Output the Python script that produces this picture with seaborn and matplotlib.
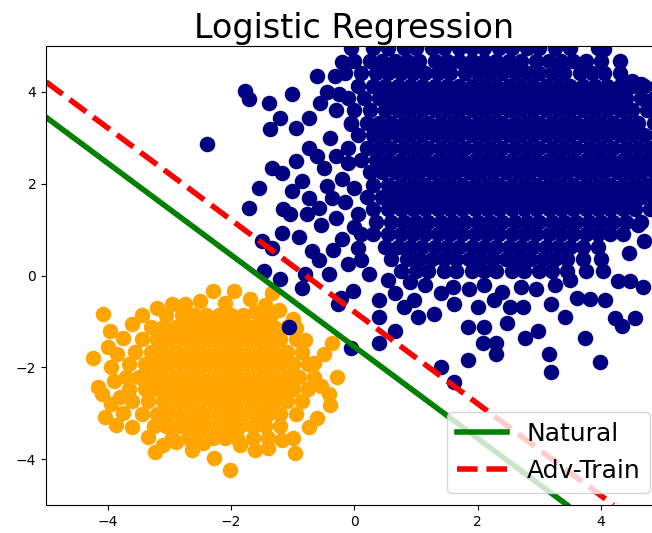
import pandas as pd
import seaborn as sns
import matplotlib.pyplot as plt

# --- orange cluster: dense rows (one y per row, x positions in that row) + loose edge points
orange_row_y = [-0.85, -1.12, -1.39, -1.66, -1.93, -2.20, -2.47, -2.74, -3.01, -3.28, -3.55]
orange_row_x = [
    [-3.05, -2.8, -2.6, -2.4, -2.2, -2.0, -1.8, -1.55, -1.35],
    [-3.3, -3.1, -2.9, -2.7, -2.5, -2.3, -2.1, -1.9, -1.7, -1.5, -1.3, -1.1],
    [-3.45, -3.2, -3.0, -2.8, -2.6, -2.4, -2.2, -2.0, -1.8, -1.6, -1.4, -1.2, -0.95],
    [-3.55, -3.3, -3.1, -2.9, -2.7, -2.5, -2.3, -2.1, -1.9, -1.7, -1.5, -1.3, -1.1, -0.85],
    [-3.65, -3.4, -3.2, -3.0, -2.8, -2.6, -2.4, -2.2, -2.0, -1.8, -1.6, -1.4, -1.2, -1.0, -0.75],
    [-3.7, -3.5, -3.3, -3.1, -2.9, -2.7, -2.5, -2.3, -2.1, -1.9, -1.7, -1.5, -1.3, -1.1, -0.9, -0.65],
    [-3.65, -3.4, -3.2, -3.0, -2.8, -2.6, -2.4, -2.2, -2.0, -1.8, -1.6, -1.4, -1.2, -1.0, -0.75],
    [-3.6, -3.35, -3.1, -2.9, -2.7, -2.5, -2.3, -2.1, -1.9, -1.7, -1.5, -1.3, -1.1, -0.85],
    [-3.45, -3.2, -3.0, -2.8, -2.6, -2.4, -2.2, -2.0, -1.8, -1.6, -1.4, -1.2, -0.95],
    [-3.25, -3.05, -2.85, -2.65, -2.45, -2.25, -2.05, -1.85, -1.65, -1.45, -1.2],
    [-2.95, -2.7, -2.5, -2.3, -2.1, -1.9, -1.65, -1.4],
]
orange_edge_x = [-4.24, -4.08, -3.97, -3.44, -3.76, -3.95, -4.1, -4.05, -3.87, -3.23,
                 -2.27, -2.02, -0.97, -0.42, -0.4, -0.29, -0.37, -0.8, -0.65, -2.3,
                 -1.95, -1.69, -1.34, -1.23, -2.95, -2.74, -1.61, -0.74, -1.18, -1.61,
                 -2.63, -2.9, -3.35, -3.76, -4.16, -3.8, -2.5, -2.1, -1.45, -3.2,
                 -3.85, -3.9, -3.95, -3.6, -3.1, -2.45, -1.85, -1.4, -1.0, -0.6,
                 -0.55, -0.5, -0.95, -1.0, -4.0, -3.6]
orange_edge_y = [-1.8, -0.83, -1.2, -0.87, -1.37, -2.0, -2.57, -3.08, -3.26, -3.85,
                 -3.98, -4.24, -3.87, -2.57, -2.83, -2.2, -1.48, -1.41, -1.91, -0.33,
                 -0.33, -0.5, -0.37, -0.76, -0.62, -0.62, -0.8, -3.3, -3.59, -3.8,
                 -3.8, -3.63, -3.52, -3.0, -2.43, -2.65, -0.55, -0.6, -0.65, -0.7,
                 -1.7, -2.3, -2.8, -3.3, -3.7, -3.65, -3.7, -3.75, -3.55, -3.1,
                 -2.4, -1.7, -1.15, -0.95, -1.55, -1.05]

# --- navy cluster
navy_row_y = [4.95, 4.68, 4.41, 4.14, 3.87, 3.60, 3.33, 3.06, 2.79, 2.52,
              2.25, 1.98, 1.71, 1.44, 1.17, 0.90, 0.63, 0.36, 0.09]
navy_row_x = [
    [-0.05, 0.3, 0.55, 0.8, 1.0, 1.25, 1.45, 1.7, 1.9, 2.1, 2.35, 2.55, 2.8, 3.0, 3.25, 3.5, 3.95],
    [0.0, 0.25, 0.45, 0.65, 0.85, 1.05, 1.3, 1.5, 1.7, 1.9, 2.1, 2.3, 2.5, 2.7, 2.95, 3.15, 3.35,
     3.55, 3.75, 4.0, 4.3],
    [-0.15, 0.1, 0.35, 0.55, 0.75, 0.95, 1.15, 1.35, 1.55, 1.8, 2.0, 2.2, 2.4, 2.6, 2.8, 3.0,
     3.2, 3.4, 3.65, 3.85, 4.05, 4.3],
    [0.05, 0.3, 0.5, 0.7, 0.9, 1.1, 1.3, 1.5, 1.7, 1.9, 2.1, 2.3, 2.5, 2.7, 2.9, 3.1, 3.3, 3.5,
     3.7, 3.9, 4.1, 4.3, 4.5, 4.7, 4.9],
    [-0.1, 0.15, 0.4, 0.6, 0.8, 1.0, 1.2, 1.4, 1.6, 1.8, 2.0, 2.2, 2.4, 2.6, 2.8, 3.0, 3.2, 3.4,
     3.6, 3.8, 4.0, 4.2, 4.4, 4.65, 4.85],
    [0.0, 0.25, 0.5, 0.7, 0.9, 1.1, 1.3, 1.5, 1.7, 1.9, 2.1, 2.3, 2.5, 2.7, 2.9, 3.1, 3.3, 3.5,
     3.7, 3.9, 4.1, 4.3, 4.5, 4.75],
    [-0.05, 0.2, 0.4, 0.6, 0.8, 1.0, 1.2, 1.4, 1.6, 1.8, 2.0, 2.2, 2.4, 2.6, 2.8, 3.0, 3.2, 3.4,
     3.6, 3.8, 4.0, 4.2, 4.4, 4.6, 4.85],
    [0.05, 0.3, 0.5, 0.7, 0.9, 1.1, 1.3, 1.5, 1.7, 1.9, 2.1, 2.3, 2.5, 2.7, 2.9, 3.1, 3.3, 3.5,
     3.7, 3.9, 4.1, 4.3, 4.5, 4.7, 4.9],
    [-0.1, 0.2, 0.4, 0.6, 0.8, 1.0, 1.2, 1.4, 1.6, 1.8, 2.0, 2.2, 2.4, 2.6, 2.8, 3.0, 3.2, 3.4,
     3.6, 3.8, 4.0, 4.2, 4.4, 4.6, 4.8],
    [0.1, 0.35, 0.55, 0.75, 0.95, 1.15, 1.35, 1.55, 1.75, 1.95, 2.15, 2.35, 2.55, 2.75, 2.95,
     3.15, 3.35, 3.55, 3.75, 3.95, 4.15, 4.35, 4.55, 4.75],
    [0.25, 0.45, 0.65, 0.85, 1.05, 1.25, 1.45, 1.65, 1.85, 2.05, 2.25, 2.45, 2.65, 2.85, 3.05,
     3.25, 3.45, 3.65, 3.85, 4.05, 4.25, 4.45, 4.65, 4.85],
    [0.3, 0.55, 0.75, 0.95, 1.15, 1.35, 1.55, 1.75, 1.95, 2.15, 2.35, 2.55, 2.75, 2.95, 3.15,
     3.35, 3.55, 3.75, 3.95, 4.15, 4.35, 4.55, 4.75],
    [0.2, 0.45, 0.65, 0.85, 1.05, 1.25, 1.45, 1.65, 1.85, 2.05, 2.25, 2.45, 2.65, 2.85, 3.05,
     3.25, 3.45, 3.65, 3.85, 4.05, 4.25, 4.45, 4.65, 4.85],
    [0.3, 0.55, 0.75, 0.95, 1.15, 1.35, 1.55, 1.75, 1.95, 2.15, 2.35, 2.55, 2.75, 2.95, 3.15,
     3.35, 3.55, 3.75, 3.95, 4.15, 4.35, 4.55, 4.8],
    [0.35, 0.6, 0.8, 1.0, 1.2, 1.4, 1.6, 1.8, 2.0, 2.2, 2.4, 2.6, 2.8, 3.0, 3.2, 3.4, 3.6, 3.8,
     4.0, 4.2, 4.4, 4.65],
    [0.3, 0.55, 0.75, 0.95, 1.15, 1.35, 1.55, 1.75, 1.95, 2.15, 2.35, 2.55, 2.75, 2.95, 3.15,
     3.35, 3.55, 3.75, 3.95, 4.15, 4.35],
    [0.5, 0.7, 0.9, 1.1, 1.3, 1.5, 1.7, 1.9, 2.1, 2.3, 2.5, 2.7, 2.9, 3.1, 3.3, 3.5, 3.7, 3.95],
    [0.6, 0.85, 1.05, 1.25, 1.45, 1.65, 1.85, 2.05, 2.25, 2.45, 2.65, 2.85, 3.05, 3.25, 3.45, 3.7],
    [0.75, 1.0, 1.2, 1.45, 1.65, 1.9, 2.1, 2.3, 2.55, 2.75, 3.0, 3.2, 3.45],
]
navy_edge_x = [-2.39, -1.77, -1.71, -1.39, -1.02, -1.37, -1.21, -0.94, -0.74, -0.61,
               -0.32, -0.56, -0.74, -1.34, -1.55, -1.18, -1.71, -1.15, -1.02, -0.85,
               -0.74, -1.05, -0.77, -0.58, -0.37, -1.18, -1.5, -1.34, -1.47, -1.21,
               -0.85, -0.69, -0.58, -0.8, -0.42, -1.06, -0.21, -0.02, -0.26, -0.05,
               0.4, 0.4, 0.4, 0.65, 0.23, 0.11, 0.81, 1.03, 1.4, 1.61,
               1.84, 1.84, 2.1, 2.08, 2.29, 2.29, 2.48, 2.77, 2.98, 3.15,
               3.18, 3.74, 3.98, 4.23, 4.34, 4.55, 4.68, 4.47, 4.27, 4.03,
               3.82, 3.61, 4.06, 3.42, 3.18, 2.74, 2.53, 2.26, 2.0, 1.61,
               1.29, 0.97, 0.65, 1.4, 0.9, 1.15, 1.6, 1.85, 2.1, 2.4,
               2.7, 2.95, 3.25, 3.5, 3.75, 4.0, 4.45, 4.7, 4.6, 0.55,
               -0.4, -0.3, -0.5, -0.2, -0.45, -0.15, -0.3, 0.0, -0.2, 0.05,
               -0.35, -0.1, -0.3, -0.45, -0.2, -0.6, 0.05, -0.1, 0.0, 0.1,
               -0.55, -0.95, -0.9, -0.05, -0.25, 4.5, 4.65, 4.05]
navy_edge_y = [2.87, 4.02, 3.85, 3.76, 3.96, 3.2, 3.43, 3.22, 3.43, 4.35,
               4.35, 3.76, 2.78, 2.35, 1.91, 2.24, 1.48, 1.46, 1.85, 2.07,
               1.7, 1.35, 1.35, 1.48, 1.7, 0.93, 0.76, 0.59, 0.11, -0.07,
               -0.28, 0.54, 0.33, 0.04, 0.04, -1.13, -0.48, -0.33, -0.61, -1.57,
               -1.48, -0.91, -0.54, -1.2, 0.04, 0.33, -0.69, -0.91, -2.0, -2.33,
               -1.85, -1.13, -1.13, -1.46, -1.48, -1.7, -1.04, -1.35, -1.2, -1.7,
               -2.1, -1.35, -1.89, -0.93, -1.09, -0.93, -0.26, -0.11, -0.11, 0.11,
               -0.5, -0.48, -0.54, -0.91, -0.61, -0.69, -0.69, -0.54, -0.69, -0.61,
               -0.83, -0.54, -0.39, -0.39, -0.15, -0.2, -0.25, -0.3, -0.2, -0.35,
               -0.25, -0.3, -0.2, -0.1, 0.1, 0.35, 0.5, 0.75, 1.1, -0.1,
               3.0, 2.6, 2.35, 2.1, 1.95, 1.6, 1.25, 1.05, 0.8, 0.6,
               0.55, 0.25, 3.6, 4.0, 4.65, 2.6, 1.35, 2.45, 1.9, 0.9,
               1.1, 2.5, 0.85, 3.3, 3.95, 4.24, 4.17, 4.93]

# decision boundaries (end points read where the lines leave the axes)
natural_x = [-5.0, 3.45]
natural_y = [3.45, -5.0]
adv_x = [-5.0, 4.2]
adv_y = [4.22, -5.0]


def cluster(row_y, row_x, edge_x, edge_y):
    xs = [x for row in row_x for x in row] + edge_x
    ys = [y for y, row in zip(row_y, row_x) for _ in row] + edge_y
    return pd.DataFrame({'x': xs, 'y': ys})


orange = cluster(orange_row_y, orange_row_x, orange_edge_x, orange_edge_y)
navy = cluster(navy_row_y, navy_row_x, navy_edge_x, navy_edge_y)

fig = plt.figure(figsize=(6.52, 5.33), dpi=100)
# axes runs a little past the right edge of the picture, like the reference crop
ax = fig.add_axes([0.0706, 0.0525, 0.946, 0.861])

sns.scatterplot(data=orange, x='x', y='y', color='orange', s=125, linewidth=0, ax=ax)
sns.scatterplot(data=navy, x='x', y='y', color='navy', s=125, linewidth=0, ax=ax)
sns.lineplot(x=natural_x, y=natural_y, color='green', lw=4, label='Natural', ax=ax)
sns.lineplot(x=adv_x, y=adv_y, color='red', lw=4, linestyle='--', label='Adv-Train', ax=ax)

ax.set_xlim(-5, 5)
ax.set_ylim(-5, 5)
ax.set_xlabel('')
ax.set_ylabel('')
ax.set_xticks([-4, -2, 0, 2, 4])
ax.set_yticks([-4, -2, 0, 2, 4])
ax.set_title('Logistic Regression', fontsize=24)
ax.legend(loc='lower right', fontsize=18)

fig.savefig('out.png', dpi=100)
